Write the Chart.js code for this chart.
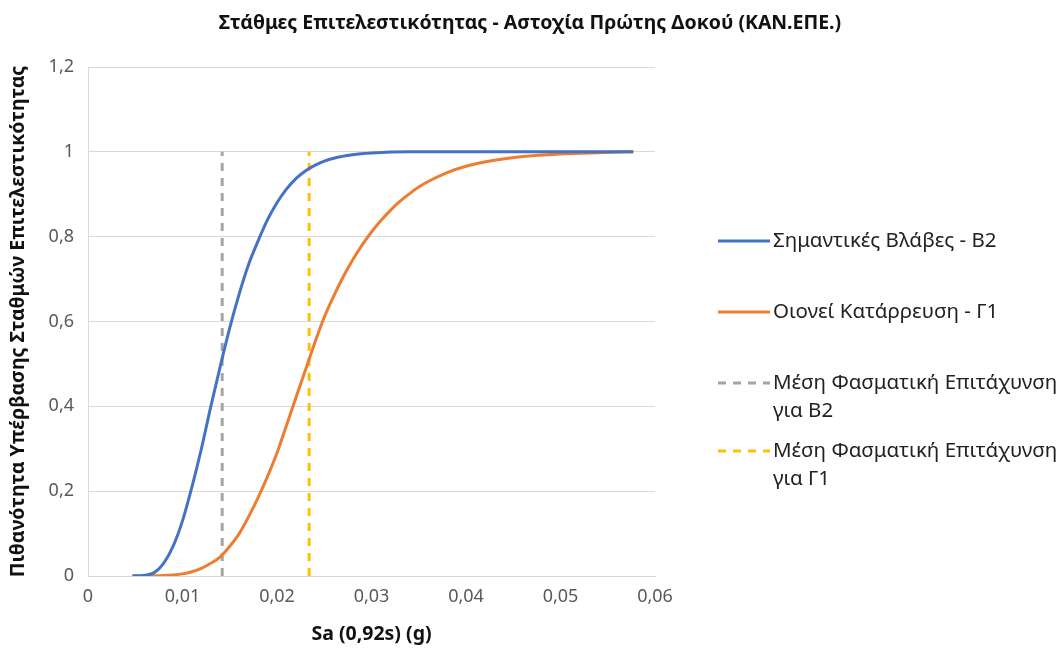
<!DOCTYPE HTML>
<html lang="el">
<head>
    <meta charset="utf-8">
    <title>Στάθμες Επιτελεστικότητας</title>
    <script src="https://cdn.jsdelivr.net/npm/chart.js@4.4.1/dist/chart.umd.min.js"></script>
    <style>
        html, body {
            margin: 0;
            padding: 0;
            background: #fff;
        }

        #wrap {
            width: 1064px;
            height: 650px;
        }
    </style>
</head>
<body>
    <div id="wrap"><canvas id="chart"></canvas></div>

    <script>
        // Σημαντικές Βλάβες - Β2
        const b2X = [0.0047, 0.006, 0.007, 0.008, 0.009, 0.010, 0.011, 0.012, 0.013, 0.014, 0.015, 0.016, 0.017, 0.018, 0.019, 0.020, 0.021, 0.022, 0.023, 0.024, 0.025, 0.026, 0.028, 0.030, 0.034, 0.040, 0.050, 0.0577];
        const b2Y = [0, 0.002, 0.008, 0.03, 0.07, 0.13, 0.21, 0.30, 0.40, 0.495, 0.585, 0.665, 0.735, 0.79, 0.84, 0.88, 0.912, 0.937, 0.955, 0.968, 0.978, 0.985, 0.993, 0.997, 1, 1, 1, 1];

        // Οιονεί Κατάρρευση - Γ1
        const g1X = [0.0047, 0.008, 0.010, 0.011, 0.012, 0.013, 0.014, 0.015, 0.016, 0.017, 0.018, 0.019, 0.020, 0.021, 0.022, 0.023, 0.024, 0.025, 0.026, 0.027, 0.028, 0.029, 0.030, 0.031, 0.032, 0.033, 0.034, 0.035, 0.036, 0.038, 0.040, 0.043, 0.046, 0.050, 0.054, 0.0577];
        const g1Y = [0, 0.001, 0.005, 0.01, 0.018, 0.03, 0.045, 0.07, 0.10, 0.14, 0.185, 0.235, 0.29, 0.355, 0.42, 0.485, 0.55, 0.61, 0.66, 0.705, 0.745, 0.78, 0.811, 0.838, 0.862, 0.883, 0.901, 0.917, 0.93, 0.951, 0.966, 0.98, 0.989, 0.995, 0.998, 1];

        // mean spectral acceleration markers
        const meanB2 = [0.0142, 0.0142];
        const meanG1 = [0.0234, 0.0234];
        const meanY = [0, 1];

        const xTicks = [0, 0.01, 0.02, 0.03, 0.04, 0.05, 0.06];
        const yTicks = [0, 0.2, 0.4, 0.6, 0.8, 1, 1.2];

        const chartTitle = 'Στάθμες Επιτελεστικότητας - Αστοχία Πρώτης Δοκού (ΚΑΝ.ΕΠΕ.)';
        const seriesNames = ['Σημαντικές Βλάβες - Β2', 'Οιονεί Κατάρρευση - Γ1', 'Μέση Φασματική Επιτάχυνση\nγια Β2', 'Μέση Φασματική Επιτάχυνση\nγια Γ1'];
        const seriesColors = ['#4472C4', '#ED7D31', '#A5A5A5', '#FFC000'];

        const FONT = '"Noto Sans", "Open Sans", sans-serif';

        function pts(xs, ys) {
            return xs.map((x, i) => ({ x: x, y: ys[i] }));
        }

        function comma(v, d) {
            return String(+v.toFixed(d)).replace('.', ',');
        }

        // title + legend drawn by hand: the title is centred on the whole canvas
        // and Chart.js legend has no two-line labels
        const decorations = {
            id: 'decorations',
            afterDraw(chart) {
                const ctx = chart.ctx;
                ctx.save();
                ctx.font = 'bold 19.5px ' + FONT;
                ctx.fillStyle = '#111';
                ctx.textAlign = 'center';
                ctx.textBaseline = 'middle';
                ctx.fillText(chartTitle, 530, 23);

                const x0 = 718, x1 = 770;
                const rows = [241, 312, 383, 451];
                ctx.font = '20.5px ' + FONT;
                ctx.fillStyle = '#222';
                ctx.textAlign = 'left';
                rows.forEach((y, i) => {
                    ctx.strokeStyle = seriesColors[i];
                    ctx.lineWidth = 3;
                    ctx.setLineDash(i > 1 ? [8, 7] : []);
                    ctx.beginPath();
                    ctx.moveTo(x0, y);
                    ctx.lineTo(x1, y);
                    ctx.stroke();
                    seriesNames[i].split('\n').forEach((line, k) => {
                        ctx.fillText(line, x1 + 3, y + k * 28);
                    });
                });
                ctx.restore();
            }
        };

        const lineStyle = (color, dash) => ({
            borderColor: color,
            backgroundColor: color,
            borderWidth: 3,
            borderDash: dash,
            pointRadius: 0,
            showLine: true,
            fill: false
        });

        new Chart(document.getElementById('chart'), {
            type: 'scatter',
            data: {
                datasets: [
                    Object.assign({ label: seriesNames[0], data: pts(b2X, b2Y), cubicInterpolationMode: 'monotone' }, lineStyle(seriesColors[0], [])),
                    Object.assign({ label: seriesNames[1], data: pts(g1X, g1Y), cubicInterpolationMode: 'monotone' }, lineStyle(seriesColors[1], [])),
                    Object.assign({ label: seriesNames[2], data: pts(meanB2, meanY) }, lineStyle(seriesColors[2], [8, 7])),
                    Object.assign({ label: seriesNames[3], data: pts(meanG1, meanY) }, lineStyle(seriesColors[3], [8, 7]))
                ]
            },
            options: {
                responsive: true,
                maintainAspectRatio: false,
                animation: false,
                layout: { padding: { left: 0, right: 409, top: 67, bottom: 0 } },
                plugins: {
                    legend: { display: false },
                    tooltip: { enabled: false },
                    title: { display: false }
                },
                scales: {
                    x: {
                        type: 'linear',
                        min: 0,
                        max: 0.06,
                        afterBuildTicks: s => { s.ticks = xTicks.map(v => ({ value: v })); },
                        afterFit: s => { s.height = 74; },
                        ticks: {
                            color: '#595959',
                            font: { family: FONT, size: 18 },
                            padding: 10,
                            maxRotation: 0,
                            callback: v => comma(v, 2)
                        },
                        grid: { display: false, drawTicks: false },
                        border: { display: true, color: '#d9d9d9', width: 1 },
                        title: {
                            display: true,
                            text: 'Sa (0,92s) (g)',
                            color: '#111',
                            font: { family: FONT, size: 19.5, weight: 'bold' },
                            padding: { top: 7 }
                        }
                    },
                    y: {
                        min: 0,
                        max: 1.2,
                        afterBuildTicks: s => { s.ticks = yTicks.map(v => ({ value: v })); },
                        afterFit: s => { s.width = 88; },
                        ticks: {
                            color: '#595959',
                            font: { family: FONT, size: 18 },
                            padding: 14,
                            callback: v => comma(v, 1)
                        },
                        grid: { color: '#d9d9d9', lineWidth: 1, drawTicks: false },
                        border: { display: true, color: '#d9d9d9', width: 1 },
                        title: {
                            display: true,
                            text: 'Πιθανότητα Υπέρβασης Σταθμών Επιτελεστικότητας',
                            color: '#111',
                            font: { family: FONT, size: 19.5, weight: 'bold' },
                            padding: { top: 7, bottom: 0 }
                        }
                    }
                }
            },
            plugins: [decorations]
        });
    </script>
</body>
</html>
